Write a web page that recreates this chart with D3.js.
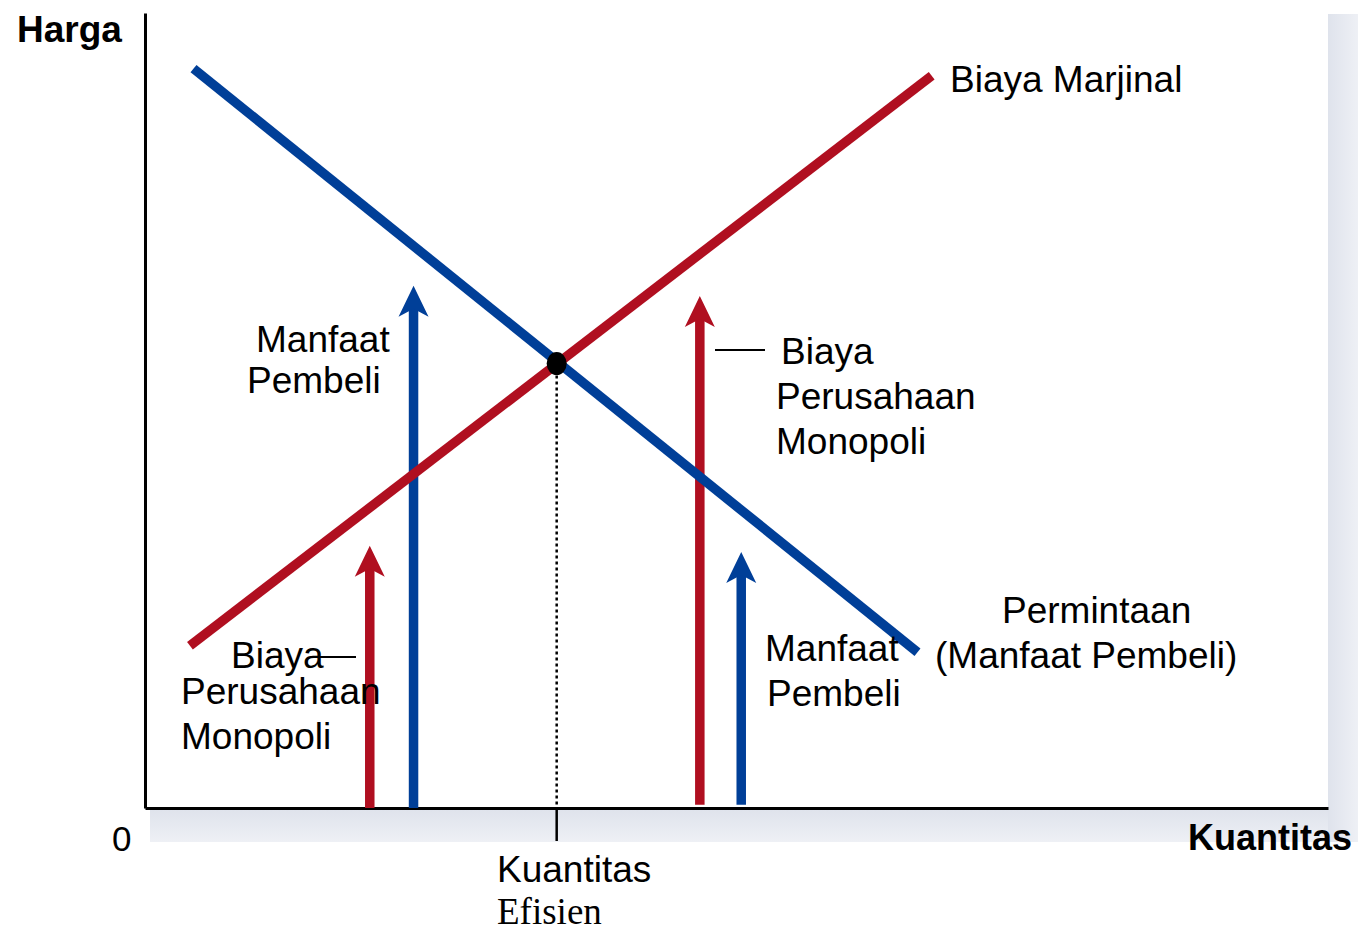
<!DOCTYPE html>
<html><head><meta charset="utf-8">
<script src="https://cdn.jsdelivr.net/npm/d3@7"></script>
<style>
html,body{margin:0;padding:0;background:#fff;}
svg{display:block;}
text{font-family:"Liberation Sans",Arial,sans-serif;fill:#000;}
</style></head>
<body>
<svg id="c" width="1358" height="930"></svg>
<script>
// ---- data (quantity 0..100, price 0..100) ----
const demandCurve = [[4.1, 93.0], [65.3, 19.6]];      // Permintaan (Manfaat Pembeli)
const mcCurve     = [[3.8, 20.4], [66.5, 92.1]];      // Biaya Marjinal
const equilibrium = [34.8, 55.9];                     // Kuantitas Efisien
const arrowX      = [19.0, 22.7, 46.9, 50.4];
const arrowBase   = [0, 0, 0.4, 0.4];
const arrowTop    = [33.0, 65.7, 64.4, 32.2];
const arrowKind   = ["cost", "benefit", "cost", "benefit"];
const axisLabels  = {y: "Harga", x: "Kuantitas", origin: "0"};
const curveLabels = ["Biaya Marjinal", "Permintaan", "(Manfaat Pembeli)"];
const benefitText = ["Manfaat", "Pembeli"];
const costText    = ["Biaya", "Perusahaan", "Monopoli"];
const effText     = ["Kuantitas", "Efisien"];

const W = 1358, H = 930;
const svg = d3.select("#c");
const x = d3.scaleLinear().domain([0, 100]).range([145, 1328]);
const y = d3.scaleLinear().domain([0, 100]).range([808, 13]);
const BLUE = "#003f98", RED = "#b00f20";
const colorOf = k => k === "cost" ? RED : BLUE;

// shadow
const defs = svg.append("defs");
const gb = defs.append("linearGradient").attr("id","gb").attr("x1",0).attr("y1",0).attr("x2",0).attr("y2",1);
gb.append("stop").attr("offset",0).attr("stop-color","#dfe3ec");
gb.append("stop").attr("offset",1).attr("stop-color","#eef0f5");
const gr = defs.append("linearGradient").attr("id","gr").attr("x1",0).attr("y1",0).attr("x2",1).attr("y2",0);
gr.append("stop").attr("offset",0).attr("stop-color","#dfe3ec");
gr.append("stop").attr("offset",1).attr("stop-color","#eef0f5");
svg.append("rect").attr("x", x(0)+5).attr("y", y(0)+2).attr("width", W - x(0) - 5).attr("height", 32).attr("fill","url(#gb)");
svg.append("rect").attr("x", x(100)).attr("y", y(100)+1).attr("width", W - x(100)).attr("height", y(0) - y(100) + 33).attr("fill","url(#gr)");
svg.append("rect").attr("x", x(0)+1).attr("y", y(100)).attr("width", x(100)-x(0)-1).attr("height", y(0)-y(100)).attr("fill","#fff");

// axes
const g = svg.append("g");
g.append("g").attr("transform", `translate(0,${y(0)})`)
  .call(d3.axisBottom(x).ticks(0).tickSize(0).tickSizeOuter(0))
  .call(s => { s.select(".domain").attr("stroke","#000").attr("stroke-width",3); s.selectAll("text").remove(); });
g.append("g").attr("transform", `translate(${x(0)},0)`)
  .call(d3.axisLeft(y).ticks(0).tickSize(0).tickSizeOuter(0))
  .call(s => { s.select(".domain").attr("stroke","#000").attr("stroke-width",3); s.selectAll("text").remove(); });

// efficient quantity guide
g.append("line").attr("x1", x(equilibrium[0])).attr("x2", x(equilibrium[0]))
  .attr("y1", y(equilibrium[1])).attr("y2", y(0))
  .attr("stroke","#000").attr("stroke-width",2.5).attr("stroke-dasharray","3,3");
g.append("line").attr("x1", x(equilibrium[0])).attr("x2", x(equilibrium[0]))
  .attr("y1", y(0)).attr("y2", y(0) + 33)
  .attr("stroke","#000").attr("stroke-width",2.5);

// arrows
const arrows = arrowX.map((v,i) => ({x: v, b: arrowBase[i], t: arrowTop[i], k: arrowKind[i]}));
const ag = g.append("g");
arrows.forEach(a => {
  const px = x(a.x), pt = y(a.t), pb = y(a.b);
  ag.append("line").attr("x1", px).attr("x2", px).attr("y1", pb).attr("y2", pt + 20)
    .attr("stroke", colorOf(a.k)).attr("stroke-width", 9.5);
  ag.append("path")
    .attr("d", `M${px},${pt} L${px+15},${pt+31} L${px},${pt+23} L${px-15},${pt+31} Z`)
    .attr("fill", colorOf(a.k));
});

// curves
const line = d3.line().x(d => x(d[0])).y(d => y(d[1]));
g.append("path").attr("d", line(mcCurve)).attr("stroke", RED).attr("stroke-width", 9.5).attr("fill","none");
g.append("path").attr("d", line(demandCurve)).attr("stroke", BLUE).attr("stroke-width", 9.5).attr("fill","none");

// equilibrium dot
g.append("ellipse").attr("cx", x(equilibrium[0])).attr("cy", y(equilibrium[1]))
  .attr("rx", 10).attr("ry", 11.5).attr("fill","#000");

// text
function txt(s, px, py, opt = {}) {
  return svg.append("text").attr("x", px).attr("y", py)
    .attr("font-size", opt.size || 37)
    .attr("font-weight", opt.bold ? "bold" : "normal")
    .attr("text-anchor", opt.anchor || "start")
    .style("font-family", opt.serif ? "'Liberation Serif','Times New Roman',serif" : null)
    .text(s);
}
txt(axisLabels.y, 17, 42, {bold: true});
txt(axisLabels.x, 1352, 850, {bold: true, anchor: "end", size: 36});
txt(axisLabels.origin, 112, 851, {size: 35});
txt(curveLabels[0], 950, 92);
txt(curveLabels[1], 1002, 623);
txt(curveLabels[2], 935, 668);

// left benefit label
txt(benefitText[0], 256, 352);
txt(benefitText[1], 247, 393);
// right cost label
txt(costText[0], 781, 364);
txt(costText[1], 776, 409);
txt(costText[2], 776, 454);
svg.append("line").attr("x1", 715).attr("x2", 765).attr("y1", 350).attr("y2", 350).attr("stroke","#000").attr("stroke-width",2);
// left cost label
txt(costText[0], 231, 668);
txt(costText[1], 181, 704);
txt(costText[2], 181, 749);
svg.append("line").attr("x1", 318).attr("x2", 356).attr("y1", 657).attr("y2", 657).attr("stroke","#000").attr("stroke-width",2);
// right benefit label
txt(benefitText[0], 765, 661);
txt(benefitText[1], 767, 706);
// efficient quantity
txt(effText[0], 497, 882);
txt(effText[1], 497, 924, {serif: true});
</script>
</body></html>
